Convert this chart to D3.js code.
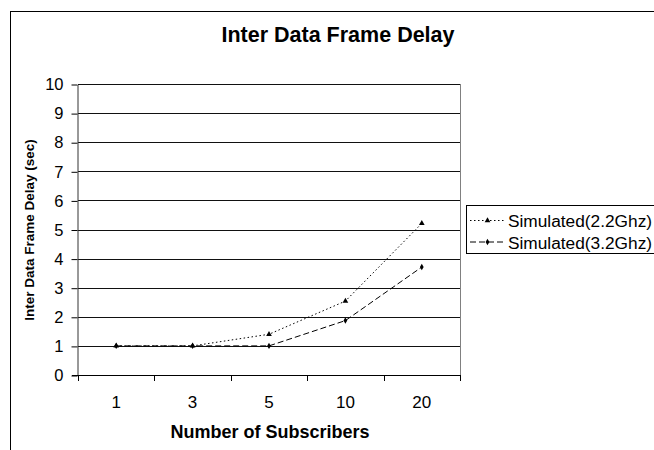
<!DOCTYPE html>
<html>
<head>
<meta charset="utf-8">
<script src="https://cdn.jsdelivr.net/npm/d3@7"></script>
<style>
  body { margin: 0; background: #fff; }
  text { font-family: Arial, "Liberation Sans", sans-serif; fill: #000; }
</style>
</head>
<body>
<div id="chart"></div>
<script>
const categories = ['1', '3', '5', '10', '20'];
const sim22 = [1, 1, 1.4, 2.54, 5.21];
const sim32 = [1, 1, 1.0, 1.87, 3.71];
const yTicks = [0, 1, 2, 3, 4, 5, 6, 7, 8, 9, 10];
const seriesNames = ['Simulated(2.2Ghz)', 'Simulated(3.2Ghz)'];

const width = 654, height = 450;
const plot = { left: 78, right: 460, top: 84, bottom: 375 };

const svg = d3.select('#chart').append('svg')
  .attr('width', width)
  .attr('height', height);

// outer chart frame (cut off at right and bottom)
svg.append('rect')
  .attr('x', 10.5).attr('y', 11.5)
  .attr('width', 700).attr('height', 500)
  .attr('fill', 'none').attr('stroke', '#000').attr('stroke-width', 1);

const x = d3.scaleBand().domain(categories).range([plot.left, plot.right]);
const y = d3.scaleLinear().domain([0, 10]).range([plot.bottom, plot.top]);

// gridlines
svg.append('g')
  .selectAll('line')
  .data(yTicks.filter(d => d > 0))
  .join('line')
  .attr('x1', plot.left).attr('x2', plot.right)
  .attr('y1', d => Math.round(y(d)) + 0.5).attr('y2', d => Math.round(y(d)) + 0.5)
  .attr('stroke', '#111').attr('stroke-width', 1);

// right edge of plot area
svg.append('line')
  .attr('x1', plot.right + 0.5).attr('x2', plot.right + 0.5)
  .attr('y1', plot.top).attr('y2', plot.bottom)
  .attr('stroke', '#808080');

// y axis
const yAxis = svg.append('g')
  .attr('transform', `translate(${plot.left - 0.5},0.5)`)
  .call(d3.axisLeft(y).tickValues(yTicks).tickSize(6).tickPadding(8).tickSizeOuter(0));
yAxis.select('.domain').attr('stroke', '#333');
yAxis.selectAll('.tick line').attr('stroke', '#000');
yAxis.selectAll('text')
  .attr('font-size', 16.5)
  .attr('font-family', 'Arial, "Liberation Sans", sans-serif');

// x axis with ticks on category boundaries
svg.append('line')
  .attr('x1', plot.left - 6).attr('x2', plot.right + 1)
  .attr('y1', plot.bottom + 0.5).attr('y2', plot.bottom + 0.5)
  .attr('stroke', '#000');
const bounds = categories.map(c => x(c)).concat([x.range()[1]]);
svg.append('g')
  .selectAll('line')
  .data(bounds)
  .join('line')
  .attr('x1', d => Math.round(d) + 0.5).attr('x2', d => Math.round(d) + 0.5)
  .attr('y1', plot.bottom).attr('y2', plot.bottom + 6)
  .attr('stroke', '#000');
svg.append('g')
  .selectAll('text')
  .data(categories)
  .join('text')
  .attr('x', d => x(d) + x.bandwidth() / 2)
  .attr('y', 408)
  .attr('text-anchor', 'middle')
  .attr('font-size', 17)
  .text(d => d);

// titles
svg.append('text')
  .attr('x', 338).attr('y', 42)
  .attr('text-anchor', 'middle')
  .attr('font-size', 21.5).attr('font-weight', 'bold')
  .text('Inter Data Frame Delay');
svg.append('text')
  .attr('x', 270).attr('y', 438)
  .attr('text-anchor', 'middle')
  .attr('font-size', 18).attr('font-weight', 'bold')
  .text('Number of Subscribers');
svg.append('text')
  .attr('transform', 'translate(34,230) rotate(-90)')
  .attr('text-anchor', 'middle')
  .attr('font-size', 13.5).attr('font-weight', 'bold')
  .text('Inter Data Frame Delay (sec)');

// series
const cx = c => x(c) + x.bandwidth() / 2;
const line = d3.line().x(d => cx(d[0])).y(d => y(d[1]));
const series = [
  { name: seriesNames[0], values: sim22, dash: '1.5,2.5', marker: d3.symbolTriangle, size: 14 },
  { name: seriesNames[1], values: sim32, dash: '6,3', marker: d3.symbolDiamond, size: 12 },
];

series.forEach(s => {
  const pts = categories.map((c, i) => [c, s.values[i]]);
  svg.append('path')
    .attr('d', line(pts))
    .attr('fill', 'none')
    .attr('stroke', '#000')
    .attr('stroke-width', 1)
    .attr('stroke-dasharray', s.dash);
  svg.append('g')
    .selectAll('path')
    .data(pts)
    .join('path')
    .attr('transform', d => `translate(${cx(d[0])},${y(d[1])})`)
    .attr('d', d3.symbol().type(s.marker).size(s.size))
    .attr('fill', '#000');
});

// legend (box runs off the right edge, as in the original)
const legend = svg.append('g');
legend.append('rect')
  .attr('x', 466.5).attr('y', 205.5)
  .attr('width', 220).attr('height', 48)
  .attr('fill', '#fff').attr('stroke', '#000');
series.forEach((s, i) => {
  const ly = 220.5 + i * 21.5;
  legend.append('line')
    .attr('x1', 470).attr('x2', 505)
    .attr('y1', ly).attr('y2', ly)
    .attr('stroke', '#000').attr('stroke-dasharray', s.dash);
  legend.append('path')
    .attr('transform', `translate(487.5,${ly})`)
    .attr('d', d3.symbol().type(s.marker).size(s.size))
    .attr('fill', '#000');
  legend.append('text')
    .attr('x', 508).attr('y', ly + 6.5)
    .attr('font-size', 17.3)
    .text(s.name);
});
</script>
</body>
</html>
